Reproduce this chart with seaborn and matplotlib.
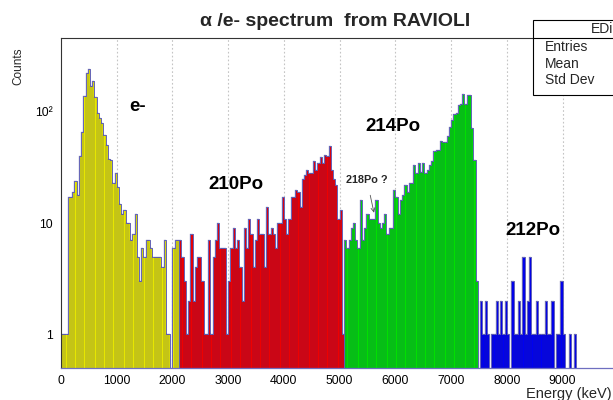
import numpy as np
import pandas as pd
import matplotlib
matplotlib.use("Agg")
import matplotlib.pyplot as plt
from matplotlib.patches import Rectangle
from matplotlib.lines import Line2D
from matplotlib.ticker import FixedLocator, FixedFormatter, LogLocator, NullFormatter, MultipleLocator
import seaborn as sns

# ---------------- data (counts per 40 keV bin) ----------------
bin_width = 40  # keV
yellow_counts = [1, 1, 1, 17, 17, 19, 24, 18, 40, 66,
                 139, 225, 240, 171, 190, 137, 98, 88, 80, 62,
                 50, 38, 37, 23, 28, 21, 15, 12, 13, 10,
                 10, 7, 8, 12, 5, 3, 6, 5, 7, 7,
                 6, 5, 5, 5, 5, 4, 7, 1, 1, 0,
                 6, 7, 7]
red_counts = [7, 5, 3, 1, 2, 8, 2, 4,
              5, 5, 3, 1, 1, 7, 1, 5, 7, 10,
              6, 6, 6, 1, 3, 6, 9, 6, 7, 4,
              2, 9, 6, 11, 8, 4, 7, 11, 8, 8,
              4, 14, 8, 9, 8, 6, 10, 10, 17, 11,
              8, 11, 17, 17, 20, 19, 14, 25, 27, 30,
              28, 28, 36, 30, 35, 39, 35, 41, 40, 49,
              30, 25, 22, 11, 13, 1]
green_counts = [7, 6, 7, 9, 10, 7, 6, 16, 7, 9,
                12, 11, 11, 11, 16, 10, 9, 10, 12, 8,
                9, 9, 20, 17, 12, 16, 18, 22, 19, 23,
                23, 33, 28, 35, 29, 35, 28, 30, 33, 36,
                44, 45, 45, 55, 53, 53, 60, 73, 85, 95,
                97, 116, 118, 144, 118, 142, 142, 72, 37, 3,
                0]
blue_counts = [2, 1, 2, 1, 0, 1, 1, 2, 1, 2,
               1, 2, 1, 0, 3, 1, 1, 2, 1, 5,
               1, 2, 5, 1, 1, 2, 1, 1, 1, 2,
               1, 1, 2, 0, 1, 1, 3, 1, 0, 0,
               1, 0, 1]
region_names = ["e-", "210Po", "214Po", "212Po"]
region_colors = ["#e6e600", "#ee0000", "#00e000", "#0000f0"]
x_ticks = [0, 1000, 2000, 3000, 4000, 5000, 6000, 7000, 8000, 9000]
y_ticks = [1, 10, 100]
y_tick_labels = ["1", "10", "10²"]
stats_rows = ["Entries", "Mean", "Std Dev"]

# ---------------- table for seaborn ----------------
all_counts = [yellow_counts, red_counts, green_counts, blue_counts]
energies, weights, regions = [], [], []
start = 0
for name, cnts in zip(region_names, all_counts):
    for i, c in enumerate(cnts):
        energies.append((start + i) * bin_width + bin_width / 2)
        weights.append(c)
        regions.append(name)
    start += len(cnts)
df = pd.DataFrame({"energy": energies, "counts": weights, "region": regions})

sns.set_theme(style="white")
plt.rcParams["font.family"] = ["Liberation Sans", "DejaVu Sans"]

W, H = 613, 400
fig = plt.figure(figsize=(W / 100, H / 100), dpi=100)
ax = fig.add_axes([61 / W, 32 / H, 557.3 / W, 330 / H])

# filled, coloured regions
sns.histplot(data=df, x="energy", weights="counts", hue="region",
             hue_order=region_names, palette=dict(zip(region_names, region_colors)),
             binwidth=bin_width, binrange=(0, 10000), multiple="layer", element="step",
             fill=True, alpha=1.0, edgecolor="#6a6ac0", linewidth=0.7, legend=False, ax=ax)
# thin bin outlines (ROOT draws every bin with a dark edge)
sns.histplot(data=df, x="energy", weights="counts",
             binwidth=bin_width, binrange=(0, 10000), element="bars",
             fill=False, color="#2a2a80", alpha=0.45, linewidth=0.3, ax=ax)

ax.set_yscale("log")
ax.set_xlim(0, 10000)
ax.set_ylim(0.5, 460)
ax.set_xlabel("")
ax.set_ylabel("")

# grid (vertical dotted)
ax.set_axisbelow(True)
for xv in x_ticks[1:]:
    ax.axvline(xv, color="#c4c4c4", lw=0.8, ls=(0, (1.5, 2)), zorder=0)

# ticks
ax.xaxis.set_major_locator(FixedLocator(x_ticks))
ax.xaxis.set_minor_locator(MultipleLocator(200))
ax.yaxis.set_major_locator(FixedLocator(y_ticks))
ax.yaxis.set_major_formatter(FixedFormatter(y_tick_labels))
ax.yaxis.set_minor_locator(LogLocator(base=10, subs=np.arange(2, 10)))
ax.yaxis.set_minor_formatter(NullFormatter())
ax.tick_params(axis="x", which="major", direction="in", length=6, width=0.7,
               color="#6f6fc0", labelsize=8.8, pad=5, labelcolor="black")
ax.tick_params(axis="x", which="minor", direction="in", length=3.5, width=0.7, color="#6f6fc0")
ax.tick_params(axis="y", which="major", direction="in", length=11, width=0.7,
               color="#444444", labelsize=8.8, pad=6, labelcolor="black")
ax.tick_params(axis="y", which="minor", direction="in", length=5.5, width=0.7, color="#444444")
ax.tick_params(top=False, right=False)

for s in ["left", "top", "right"]:
    ax.spines[s].set_color("#333333")
    ax.spines[s].set_linewidth(0.8)
ax.spines["bottom"].set_color("#6f6fc0")
ax.spines["bottom"].set_linewidth(0.9)

# peak labels
lab_kw = dict(ha="center", va="center", fontsize=13.5, fontweight="bold", color="black")
ax.text(1380, 111, "e-", **lab_kw)
ax.text(3140, 22.1, "210Po", **lab_kw)
ax.text(5957, 73.3, "214Po", **lab_kw)
ax.text(8469, 8.6, "212Po", **lab_kw)
ax.annotate("218Po ?", xy=(5616, 12.4), xytext=(5491, 24.3),
            ha="center", va="center", fontsize=7.8, fontweight="bold",
            arrowprops=dict(arrowstyle="->", color="#555555", lw=0.6,
                            shrinkA=5, shrinkB=0, mutation_scale=7))

# title and axis labels
fig.text(335 / W, 1 - 22 / H, "α /e- spectrum  from RAVIOLI", ha="center", va="center",
         fontsize=14, fontweight="bold")
fig.text(18 / W, 1 - 66 / H, "Counts", rotation=90, ha="center", va="center", fontsize=8.5)
fig.text(612 / W, 1 - 394 / H, "Energy (keV)", ha="right", va="center", fontsize=10.5)

# stats box (cut off at the right edge, as in the source)
box = Rectangle((533 / W, 1 - 95 / H), 0.3, 75 / H, transform=fig.transFigure,
                facecolor="white", edgecolor="black", lw=0.8, zorder=5)
fig.add_artist(box)
fig.add_artist(Line2D([533 / W, 1.0], [1 - 38 / H, 1 - 38 / H], transform=fig.transFigure,
                      color="black", lw=0.8, zorder=6))
fig.text(591 / W, 1 - 29 / H, "EDi", ha="left", va="center", fontsize=10, zorder=7)
for i, r in enumerate(stats_rows):
    fig.text(545 / W, 1 - (47 + 16.5 * i) / H, r, ha="left", va="center", fontsize=10, zorder=7)

fig.savefig("out.png", dpi=100)
